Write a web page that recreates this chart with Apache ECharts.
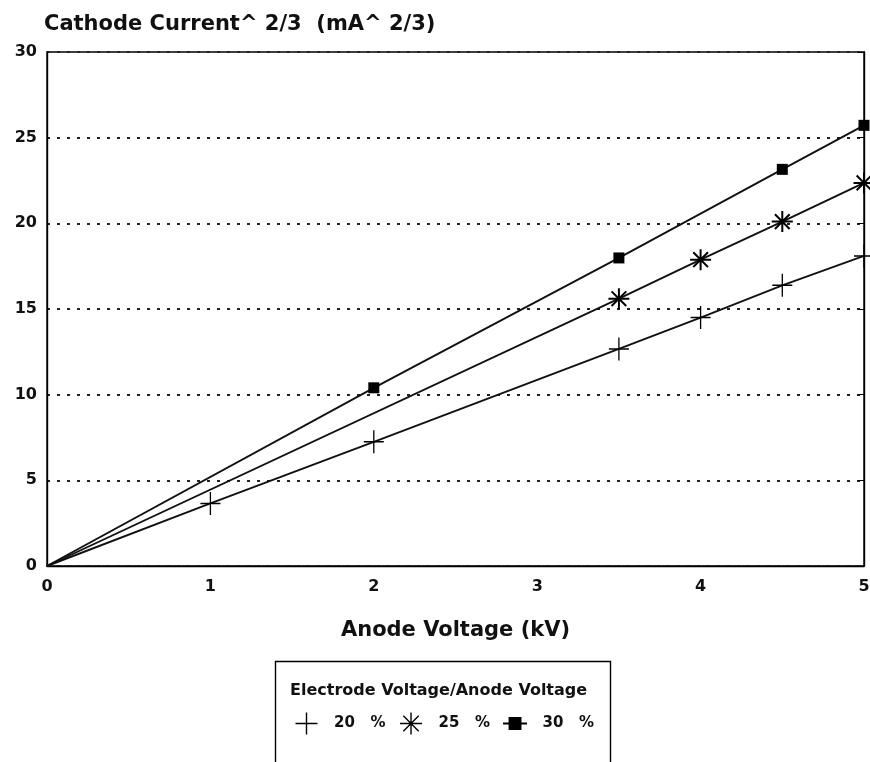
<!DOCTYPE html>
<html>
<head>
<meta charset="utf-8">
<script src="https://cdn.jsdelivr.net/npm/echarts@6/dist/echarts.min.js"></script>
<style>
  html, body { margin: 0; padding: 0; background: #fff; }
  #chart { width: 870px; height: 762px; }
</style>
</head>
<body>
<div id="chart"></div>
<script>
// anode voltage (kV) vs cathode current^2/3, one array per ratio
const x20 = [0, 1, 2, 3.5, 4, 4.5, 5]
const y20 = [0, 3.65, 7.25, 12.67, 14.5, 16.38, 18.1]
const x25 = [0, 3.5, 4, 4.5, 5]
const y25 = [0, 15.6, 17.88, 20.1, 22.36]
const x30 = [0, 2, 3.5, 4.5, 5]
const y30 = [0, 10.4, 17.98, 23.15, 25.72]

const seriesNames = ['20 %', '25 %', '30 %']
const titleText = 'Cathode Current^ 2/3  (mA^ 2/3)'
const xName = 'Anode Voltage (kV)'
const legendTitle = 'Electrode Voltage/Anode Voltage'

const plusPath = 'path://M0,10L20,10M10,0L10,20'
const starPath = 'path://M10,0L10,20M0,10L20,10M3,3L17,17M17,3L3,17'
const rectLegend = 'path://M0,5L22,5M6,0L16,0L16,10L6,10Z'

const pair = (xs, ys) => xs.map((x, i) => [x, ys[i]])

const chart = echarts.init(document.getElementById('chart'))
const font = 'DejaVu Sans, Verdana, sans-serif'

const option = {
  animation: false,
  textStyle: { fontFamily: font, color: '#000' },
  grid: {
    left: 47, right: 6, top: 52, bottom: 196,
    outerBoundsMode: 'none',
    show: true, borderColor: '#000', borderWidth: 1.4,
  },
  title: {
    text: titleText,
    left: 44, top: 14, padding: 0,
    textStyle: { fontSize: 21, fontWeight: 'bold', fontFamily: font, color: '#111' },
  },
  xAxis: {
    type: 'value', min: 0, max: 5, interval: 1,
    name: xName, nameLocation: 'middle', nameGap: 54,
    nameTextStyle: { fontSize: 21, fontWeight: 'bold', color: '#111' },
    axisLine: { lineStyle: { color: '#000', width: 1.4 } },
    axisTick: { show: false },
    splitLine: { show: false },
    axisLabel: { fontSize: 16, fontWeight: 'bold', color: '#111', margin: 13 },
  },
  yAxis: [
    {
      type: 'value', min: 0, max: 30, interval: 5,
      axisLine: { show: true, lineStyle: { color: '#000', width: 1.4 } },
      axisTick: { show: false },
      axisLabel: { fontSize: 16, fontWeight: 'bold', color: '#111', margin: 10 },
      splitLine: { lineStyle: { color: '#222', type: [3, 7], width: 1.8 } },
    },
    {
      type: 'value', min: 0, max: 30, interval: 5, position: 'right',
      axisLine: { show: true, lineStyle: { color: '#000', width: 1.4 } },
      axisTick: { show: true, inside: true, length: 6, lineStyle: { color: '#000' } },
      axisLabel: { show: false },
      splitLine: { show: false },
    },
  ],
  legend: {
    left: 288, top: 705, itemGap: 12, itemWidth: 24, itemHeight: 22,
    symbolKeepAspect: true,
    formatter: name => '  ' + name.replace(' ', '   '),
    textStyle: { fontSize: 15, fontWeight: 'bold', color: '#111', fontFamily: font },
    data: [
      { name: seriesNames[0], icon: plusPath, itemStyle: { color: 'none', borderColor: '#000', borderWidth: 1.4 } },
      { name: seriesNames[1], icon: starPath, itemStyle: { color: 'none', borderColor: '#000', borderWidth: 1.4 } },
      { name: seriesNames[2], icon: rectLegend, itemStyle: { color: '#000', borderColor: '#000', borderWidth: 2 } },
    ],
  },
  graphic: [
    {
      type: 'rect', left: 273, top: 659,
      shape: { width: 335, height: 120 },
      style: { fill: 'none', stroke: '#000', lineWidth: 1.4 },
    },
    {
      type: 'text', left: 290, top: 683,
      style: { text: legendTitle, fontSize: 16, fontWeight: 'bold', fontFamily: font, fill: '#111' },
    },
  ],
  series: [
    {
      name: seriesNames[0], type: 'line', data: pair(x20, y20),
      symbol: plusPath, symbolSize: [20, 23], clip: false,
      lineStyle: { color: '#111', width: 1.9 },
      itemStyle: { color: 'none', borderColor: '#000', borderWidth: 1.4 },
    },
    {
      name: seriesNames[1], type: 'line', data: pair(x25, y25),
      symbol: starPath, symbolSize: 21, clip: false,
      lineStyle: { color: '#111', width: 1.9 },
      itemStyle: { color: 'none', borderColor: '#000', borderWidth: 2 },
    },
    {
      name: seriesNames[2], type: 'line', data: pair(x30, y30),
      symbol: 'rect', symbolSize: 11, clip: false,
      lineStyle: { color: '#111', width: 1.9 },
      itemStyle: { color: '#000' },
    },
  ],
}

// hide the origin markers, the reference only marks measured points
option.series.forEach(s => {
  s.data = s.data.map((d, i) => i === 0 ? { value: d, symbol: 'none' } : d)
})

chart.setOption(option)
</script>
</body>
</html>
